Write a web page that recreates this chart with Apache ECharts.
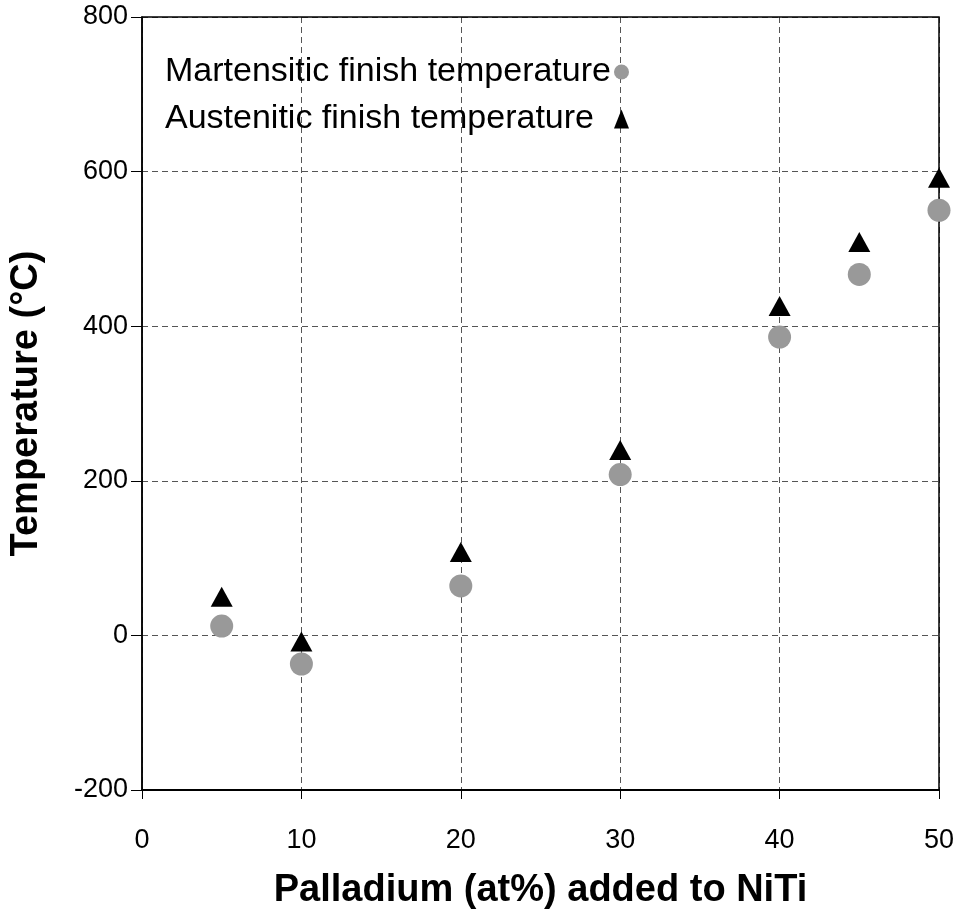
<!DOCTYPE html>
<html><head><meta charset="utf-8">
<script src="https://cdn.jsdelivr.net/npm/echarts@6/dist/echarts.min.js"></script>
<style>html,body{margin:0;padding:0;background:#fff}#c{width:962px;height:915px}</style>
</head><body><div id="c"></div>
<script>
const palladium = [5, 10, 20, 30, 40, 45, 50];
const martensiticFinish = [12, -37, 64, 208, 386, 467, 550];
const austeniticFinish = [50, -8, 108, 240, 426, 509, 592];
const seriesNames = ['Martensitic finish temperature', 'Austenitic finish temperature'];
const xTitle = 'Palladium (at%) added to NiTi';
const yTitle = 'Temperature (°C)';

const pairs = (xs, ys) => xs.map((x, i) => [x, ys[i]]);
const chart = echarts.init(document.getElementById('c'));
const font = 'Liberation Sans, Arial, sans-serif';
chart.setOption({
  animation: false,
  grid: {left: 141, right: 23, top: 17, bottom: 120, containLabel: false,
         show: true, borderColor: '#000', borderWidth: 1.5, backgroundColor: 'transparent', z: 1},
  legend: {
    orient: 'vertical', align: 'right', left: 160, top: 50,
    itemWidth: 15, itemHeight: 19, itemGap: 13,
    formatter: '{t|{name}}',
    textStyle: {fontFamily: font, fontSize: 34, color: '#000',
      rich: {t: {fontFamily: font, fontSize: 34, color: '#000', width: 444, align: 'left'}}},
    data: [
      {name: seriesNames[0], icon: 'circle', itemStyle: {color: '#999999'}},
      {name: seriesNames[1], icon: 'triangle', itemStyle: {color: '#000'}}
    ]
  },
  xAxis: {
    type: 'value', min: 0, max: 50, interval: 10,
    name: xTitle, nameLocation: 'middle', nameGap: 82,
    nameTextStyle: {fontFamily: font, fontWeight: 'bold', fontSize: 38, color: '#000'},
    axisLine: {onZero: false, lineStyle: {color: '#000', width: 2}},
    axisTick: {show: true, length: 9, lineStyle: {color: '#000'}},
    axisLabel: {fontFamily: font, fontSize: 27, color: '#000', margin: 37},
    splitLine: {show: true, lineStyle: {color: '#555', type: [6, 4], width: 1}}
  },
  yAxis: {
    type: 'value', min: -200, max: 800, interval: 200,
    name: yTitle, nameLocation: 'middle', nameGap: 96,
    nameTextStyle: {fontFamily: font, fontWeight: 'bold', fontSize: 38, color: '#000'},
    axisLine: {show: true, lineStyle: {color: '#000', width: 1.5}},
    axisTick: {show: true, length: 11, lineStyle: {color: '#000'}},
    axisLabel: {fontFamily: font, fontSize: 27, color: '#000', margin: 14},
    splitLine: {show: true, lineStyle: {color: '#555', type: [6, 4], width: 1}}
  },
  series: [
    {name: seriesNames[0], type: 'scatter', symbol: 'circle', symbolSize: 23,
     itemStyle: {color: '#999999', opacity: 1}, data: pairs(palladium, martensiticFinish), z: 2},
    {name: seriesNames[1], type: 'scatter', symbol: 'triangle', symbolSize: [22, 20],
     itemStyle: {color: '#000', opacity: 1}, data: pairs(palladium, austeniticFinish), z: 3}
  ]
});
</script></body></html>
